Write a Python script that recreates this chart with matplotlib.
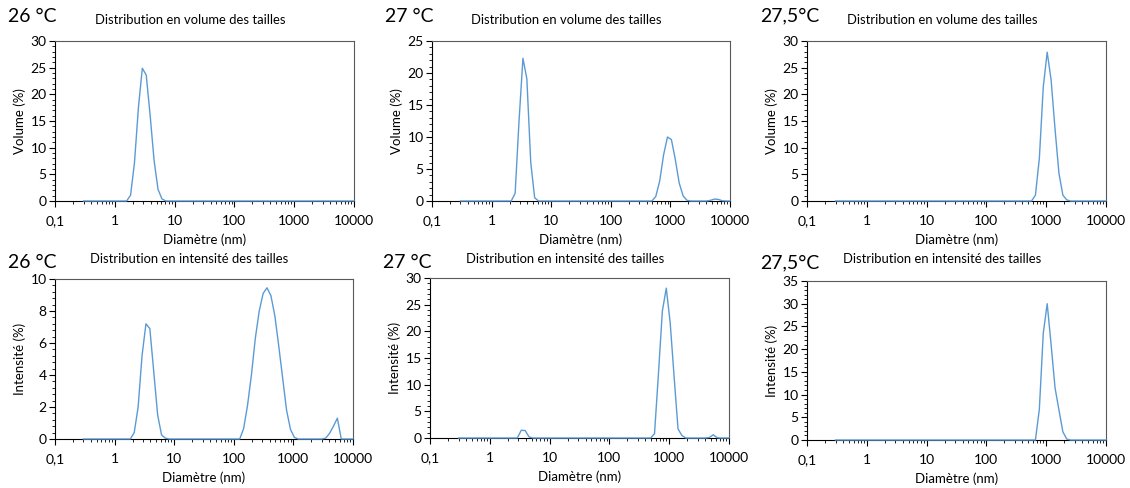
import matplotlib.pyplot as plt
from matplotlib.ticker import AutoMinorLocator, LogLocator, NullFormatter, MultipleLocator

plt.rcParams['font.family'] = ['Lato', 'DejaVu Sans']

# size classes (nm)
sizes = [0.300, 0.349, 0.406, 0.472, 0.549, 0.638, 0.742, 0.863, 1.004, 1.167,
         1.357, 1.578, 1.835, 2.134, 2.482, 2.886, 3.356, 3.903, 4.539, 5.278,
         6.138, 7.138, 8.301, 9.653, 11.23, 13.06, 15.18, 17.66, 20.53, 23.88,
         27.77, 32.29, 37.55, 43.67, 50.78, 59.05, 68.67, 79.86, 92.87, 108.0,
         125.6, 146.1, 169.9, 197.5, 229.7, 267.1, 310.6, 361.2, 420.1, 488.5,
         568.1, 660.6, 768.2, 893.4, 1039, 1208, 1405, 1634, 1900, 2209,
         2569, 2988, 3474, 4040, 4698, 5464, 6354, 7389, 8593, 10000]

vol_26 = [0, 0, 0, 0, 0, 0, 0, 0, 0, 0,
          0, 0, 1.1, 7.2, 17.5, 24.9, 23.6, 16.0, 7.6, 2.2,
          0.4, 0, 0, 0, 0, 0, 0, 0, 0, 0,
          0, 0, 0, 0, 0, 0, 0, 0, 0, 0,
          0, 0, 0, 0, 0, 0, 0, 0, 0, 0,
          0, 0, 0, 0, 0, 0, 0, 0, 0, 0,
          0, 0, 0, 0, 0, 0, 0, 0, 0, 0]

vol_27 = [0, 0, 0, 0, 0, 0, 0, 0, 0, 0,
          0, 0, 0, 0, 1.2, 12.5, 22.3, 19.1, 6.0, 0.5,
          0, 0, 0, 0, 0, 0, 0, 0, 0, 0,
          0, 0, 0, 0, 0, 0, 0, 0, 0, 0,
          0, 0, 0, 0, 0, 0, 0, 0, 0, 0,
          0.7, 3.1, 7.2, 10.0, 9.6, 6.5, 2.8, 0.8, 0.1, 0,
          0, 0, 0, 0, 0.1, 0.3, 0.25, 0.05, 0, 0]

vol_275 = [0, 0, 0, 0, 0, 0, 0, 0, 0, 0,
           0, 0, 0, 0, 0, 0, 0, 0, 0, 0,
           0, 0, 0, 0, 0, 0, 0, 0, 0, 0,
           0, 0, 0, 0, 0, 0, 0, 0, 0, 0,
           0, 0, 0, 0, 0, 0, 0, 0, 0, 0,
           0, 1.1, 8.0, 21.4, 27.9, 22.7, 13.5, 5.2, 1.1, 0.2,
           0, 0, 0, 0, 0, 0, 0, 0, 0, 0]

int_26 = [0, 0, 0, 0, 0, 0, 0, 0, 0, 0,
          0, 0, 0, 0.4, 2.0, 5.2, 7.2, 6.9, 4.2, 1.5,
          0.25, 0.05, 0, 0, 0, 0, 0, 0, 0, 0,
          0, 0, 0, 0, 0, 0, 0, 0, 0, 0,
          0, 0.65, 2.1, 4.0, 6.3, 8.0, 9.1, 9.45, 8.95, 7.7,
          5.8, 3.8, 1.8, 0.6, 0.1, 0, 0, 0, 0, 0,
          0, 0, 0.05, 0.35, 0.8, 1.3, 0, 0, 0, 0]

int_27 = [0, 0, 0, 0, 0, 0, 0, 0, 0, 0,
          0, 0, 0, 0, 0, 0, 1.45, 1.4, 0.2, 0,
          0, 0, 0, 0, 0, 0, 0, 0, 0, 0,
          0, 0, 0, 0, 0, 0, 0, 0, 0, 0,
          0, 0, 0, 0, 0, 0, 0, 0, 0, 0,
          0.8, 12.0, 23.8, 28.1, 21.6, 11.5, 1.7, 0.45, 0, 0,
          0, 0, 0, 0, 0.1, 0.6, 0.05, 0, 0, 0]

int_275 = [0, 0, 0, 0, 0, 0, 0, 0, 0, 0,
           0, 0, 0, 0, 0, 0, 0, 0, 0, 0,
           0, 0, 0, 0, 0, 0, 0, 0, 0, 0,
           0, 0, 0, 0, 0, 0, 0, 0, 0, 0,
           0, 0, 0, 0, 0, 0, 0, 0, 0, 0,
           0, 0, 6.8, 23.5, 30.0, 21.0, 11.5, 6.6, 1.8, 0.2,
           0, 0, 0, 0, 0, 0, 0, 0, 0, 0]

temps = ['26 °C', '27 °C', '27,5°C']
titles = ['Distribution en volume des tailles', 'Distribution en intensité des tailles']
xtick_vals = [0.1, 1, 10, 100, 1000, 10000]
xtick_labels = ['0,1', '1', '10', '100', '1000', '10000']

W, H = 1130, 488
fig = plt.figure(figsize=(W / 100, H / 100), dpi=100)

# (values, ylabel, ymax, ystep, axes box in px l,t,r,b, temp, title, title x, title y, temp y)
panels = [
    (vol_26, 'Volume (%)', 30, 5, (55, 41, 354, 201), temps[0], titles[0], 190, 20, 16),
    (vol_27, 'Volume (%)', 25, 5, (432, 41, 730, 201), temps[1], titles[0], 566, 20, 16),
    (vol_275, 'Volume (%)', 30, 5, (807, 41, 1106, 201), temps[2], titles[0], 942, 20, 16),
    (int_26, 'Intensité (%)', 10, 2, (55, 279, 353, 439), temps[0], titles[1], 189, 259, 263),
    (int_27, 'Intensité (%)', 30, 5, (430, 278, 729, 438), temps[1], titles[1], 565, 259, 263),
    (int_275, 'Intensité (%)', 35, 5, (807, 281, 1106, 440), temps[2], titles[1], 942, 259, 263),
]

for vals, ylab, ymax, ystep, box, temp, title, tx, ty, tempy in panels:
    l, t, r, b = box
    ax = fig.add_axes([l / W, 1 - b / H, (r - l) / W, (b - t) / H])
    ax.plot(sizes, vals, color='#5B9BD5', lw=1.0, zorder=3, clip_on=False)
    ax.set_xscale('log')
    ax.set_xlim(0.1, 10000)
    ax.set_ylim(0, ymax)
    ax.set_xticks(xtick_vals)
    ax.set_xticklabels(xtick_labels)
    ax.xaxis.set_minor_locator(LogLocator(base=10, subs=range(2, 10)))
    ax.xaxis.set_minor_formatter(NullFormatter())
    ax.yaxis.set_major_locator(MultipleLocator(ystep))
    ax.yaxis.set_minor_locator(AutoMinorLocator(5))
    ax.tick_params(which='major', direction='out', length=4, width=0.8, labelsize=10, pad=2)
    ax.tick_params(axis='x', which='major', pad=6)
    ax.tick_params(which='minor', direction='out', length=2.5, width=0.6)
    ax.set_xlabel('Diamètre (nm)', fontsize=9.5, labelpad=5)
    ax.set_ylabel(ylab, fontsize=9.5, labelpad=3)
    ax.spines['left'].set_color('black')
    ax.spines['bottom'].set_color('black')
    ax.spines['top'].set_color('#595959')
    ax.spines['right'].set_color('#595959')
    for s in ax.spines.values():
        s.set_linewidth(0.8)
    fig.text(tx / W, 1 - ty / H, title, fontsize=9.4, ha='center', va='center')
    fig.text((l - 47) / W, 1 - tempy / H, temp, fontsize=14, ha='left', va='center')

fig.savefig('out.png', dpi=100)
